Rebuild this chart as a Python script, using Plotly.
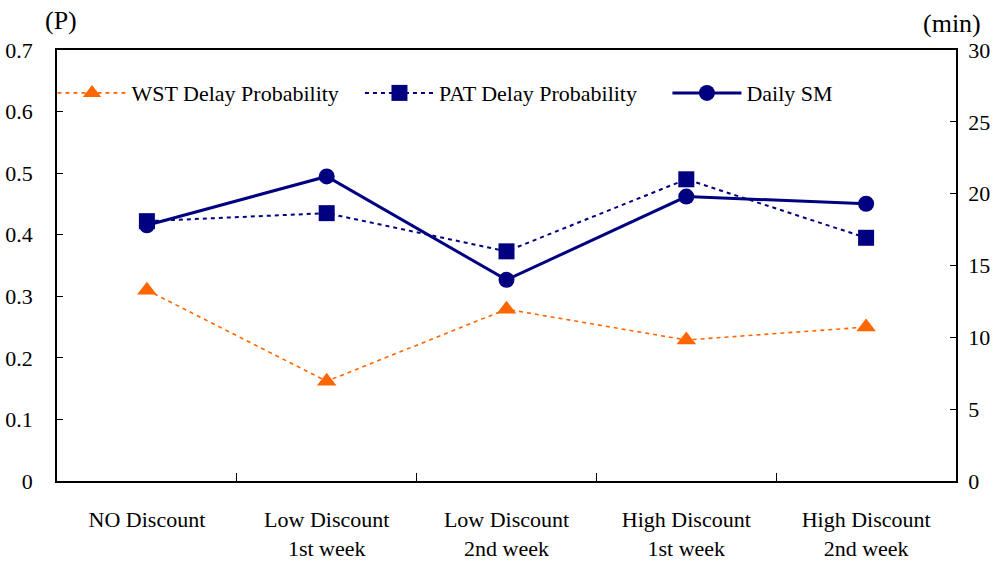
import plotly.graph_objects as go

categories = ["NO Discount", "Low Discount<br>1st week", "Low Discount<br>2nd week",
              "High Discount<br>1st week", "High Discount<br>2nd week"]
wst_delay = [0.310, 0.162, 0.279, 0.229, 0.250]
pat_delay = [0.422, 0.435, 0.373, 0.490, 0.395]
daily_sm = [17.8, 21.2, 14.0, 19.8, 19.3]

left_ticks = [0, 0.1, 0.2, 0.3, 0.4, 0.5, 0.6, 0.7]
left_labels = ["0", "0.1", "0.2", "0.3", "0.4", "0.5", "0.6", "0.7"]
right_ticks = [0, 5, 10, 15, 20, 25, 30]

FONT = "Liberation Serif"
ORANGE = "#FF6600"
NAVY = "#000080"

fig = go.Figure()
fig.add_trace(go.Scatter(
    x=categories, y=wst_delay, name="WST Delay Probability", mode="lines+markers",
    legend="legend",
    line=dict(color=ORANGE, width=1.6, dash="4px,4px"),
    marker=dict(symbol="triangle-up", size=17, color=ORANGE)))
fig.add_trace(go.Scatter(
    x=categories, y=pat_delay, name="PAT Delay Probability", mode="lines+markers",
    legend="legend2",
    line=dict(color=NAVY, width=2, dash="4px,4px"),
    marker=dict(symbol="square", size=16, color=NAVY)))
fig.add_trace(go.Scatter(
    x=categories, y=daily_sm, name="Daily SM", mode="lines+markers", yaxis="y2",
    legend="legend3",
    line=dict(color=NAVY, width=3),
    marker=dict(symbol="circle", size=16, color=NAVY)))

leg_common = dict(orientation="h", xanchor="left", y=0.90, yanchor="middle",
                  bgcolor="rgba(0,0,0,0)", itemwidth=69,
                  font=dict(family=FONT, size=22, color="black"))

fig.update_layout(
    width=998, height=561,
    margin=dict(l=57, r=42, t=50, b=80, autoexpand=False),
    paper_bgcolor="white", plot_bgcolor="white",
    font=dict(family=FONT, size=22, color="black"),
    showlegend=True,
    legend=dict(x=-0.005, **leg_common),
    legend2=dict(x=0.337, **leg_common),
    legend3=dict(x=0.679, **leg_common),
    xaxis=dict(type="category", range=[-0.5, 4.5], showline=True, linecolor="black",
               linewidth=1.5, mirror=True, ticks="inside", ticklen=8, tickcolor="black",
               tickson="boundaries", showgrid=False, zeroline=False, automargin=False,
               ticklabelstandoff=18, tickfont=dict(family=FONT, size=22)),
    yaxis=dict(range=[0, 0.7], tickvals=left_ticks, ticktext=left_labels,
               showline=True, linecolor="black", linewidth=1.5, ticks="inside",
               ticklen=6, tickcolor="black", showgrid=False, zeroline=False,
               automargin=False,
               ticklabelstandoff=18, tickfont=dict(family=FONT, size=22)),
    yaxis2=dict(range=[0, 30], tickvals=right_ticks, overlaying="y", side="right",
                showline=True, linecolor="black", linewidth=1.5, ticks="inside",
                ticklen=6, tickcolor="black", showgrid=False, zeroline=False,
                automargin=False,
                ticklabelstandoff=6, tickfont=dict(family=FONT, size=22)),
    annotations=[
        dict(text="(P)", xref="paper", yref="paper", x=0.004, y=1.0, yshift=30,
             xanchor="center", yanchor="middle", showarrow=False,
             font=dict(family=FONT, size=26)),
        dict(text="(min)", xref="paper", yref="paper", x=1.0, y=1.0, yshift=27,
             xshift=-4, xanchor="center", yanchor="middle", showarrow=False,
             font=dict(family=FONT, size=26)),
    ],
)

fig.write_html("out.html", config={"displayModeBar": False},
               post_script="document.body.style.margin='0';")
